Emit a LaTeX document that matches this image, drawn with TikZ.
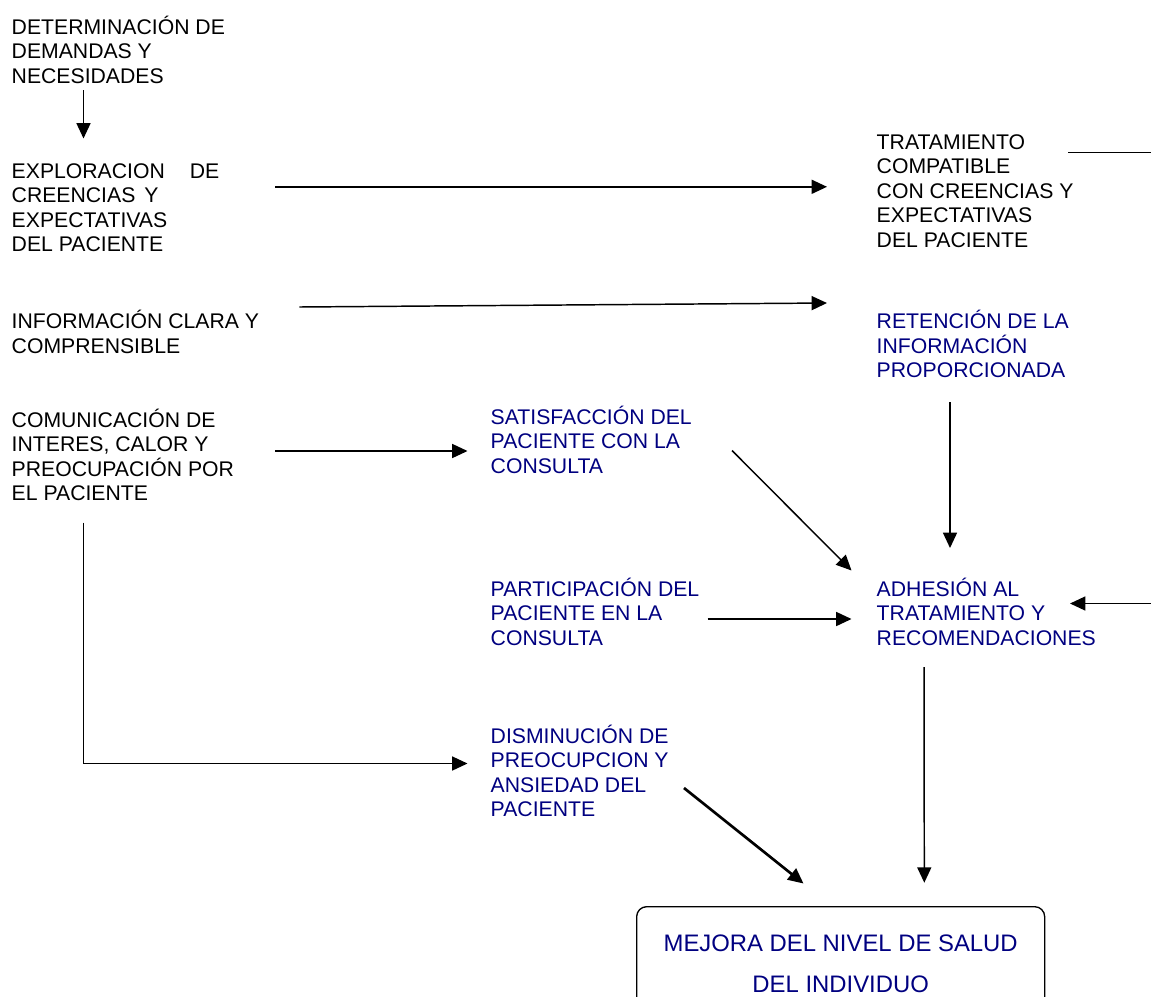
\documentclass[tikz,border=0pt]{standalone}
\usepackage{fontspec}
\setmainfont{Liberation Sans}
\usetikzlibrary{arrows.meta}
\definecolor{navytext}{RGB}{0,0,128}

\begin{document}
\begin{tikzpicture}[x=0.75pt, y=-0.75pt, line width=1.1pt, >={Triangle[length=11.5pt, width=10.5pt]}]
    % Define block styles
    \tikzstyle{block} = [anchor=north west, inner sep=0pt, align=left,
        font=\fontsize{15.9}{18.4}\selectfont, execute at begin node={\rule{0pt}{15pt}}]
    \tikzstyle{blueblock} = [block, text=navytext]
    \tikzstyle{goal} = [rectangle, draw, line width=1pt, rounded corners=7.5pt, anchor=north west,
        minimum width=306pt, minimum height=85.5pt, align=center, text=navytext,
        font=\fontsize{17.9}{30.5}\selectfont]
    \tikzstyle{line} = [draw, ->]

    \useasboundingbox (0,0) rectangle (1151,996);

    % Define nodes
    \node [block] (det) at (11,15) {DETERMINACIÓN DE\\DEMANDAS Y\\NECESIDADES};
    \node [block] (explor) at (11,162.5) {EXPLORACION\hspace{18.8pt}DE\\CREENCIAS\hspace{6.8pt}Y\\EXPECTATIVAS\\DEL PACIENTE};
    \node [block] (info) at (11,309.5) {INFORMACIÓN CLARA Y\\COMPRENSIBLE};
    \node [block] (comun) at (11,408) {COMUNICACIÓN DE\\INTERES, CALOR Y\\PREOCUPACIÓN POR\\EL PACIENTE};

    \node [blueblock] (satis) at (490,405) {SATISFACCIÓN DEL\\PACIENTE CON LA\\CONSULTA};
    \node [blueblock] (partic) at (490,577) {PARTICIPACIÓN DEL\\PACIENTE EN LA\\CONSULTA};
    \node [blueblock] (dismin) at (490,724) {DISMINUCIÓN DE\\PREOCUPCION Y\\ANSIEDAD DEL\\PACIENTE};

    \node [block] (trat) at (876,133.5) {TRATAMIENTO\\COMPATIBLE\\CON CREENCIAS Y\\EXPECTATIVAS\\DEL PACIENTE};
    \node [blueblock] (reten) at (876,309.5) {RETENCIÓN DE LA\\INFORMACIÓN\\PROPORCIONADA};
    \node [blueblock] (adh) at (876,577) {ADHESIÓN AL\\TRATAMIENTO Y\\RECOMENDACIONES};

    \node [goal] (mejora) at (636,906) {MEJORA DEL NIVEL DE SALUD\\DEL INDIVIDUO};

    % Draw edges
    \path [line] ([shift={(72.5,75)}]det.north west) -- ([shift={(72.5,-24)}]explor.north west);
    \path [line] ([shift={(264,24.3)}]explor.north west) -- ([shift={(-49,53.3)}]trat.north west);
    \path [line] ([shift={(288.3,-2.5)}]info.north west) -- ([shift={(-49,-6.5)}]reten.north west);
    \path [line] ([shift={(264,43)}]comun.north west) -- ([shift={(-22.5,46)}]satis.north west);
    \path [line] ([shift={(72.5,114.5)}]comun.north west) |- ([shift={(-22.5,39.5)}]dismin.north west);
    \path [line] ([shift={(242,45.5)}]satis.north west) -- ([shift={(-24.5,-6.5)}]adh.north west);
    \path [line] ([shift={(217.5,42)}]partic.north west) -- ([shift={(-24.5,42)}]adh.north west);
    \path [line] ([shift={(74,92.5)}]reten.north west) -- ([shift={(74,-29)}]adh.north west);
    \path [line] ([shift={(192,19)}]trat.north west) -- ++(100,0) |- ([shift={(194,26.5)}]adh.north west);
    \path [line] ([shift={(48,90)}]adh.north west) -- ([shift={(288.3,-23.3)}]mejora.north west);
    \path [line, line width=2pt] ([shift={(194,64)}]dismin.north west) -- ([shift={(167.5,-22.5)}]mejora.north west);

\end{tikzpicture}
\end{document}
